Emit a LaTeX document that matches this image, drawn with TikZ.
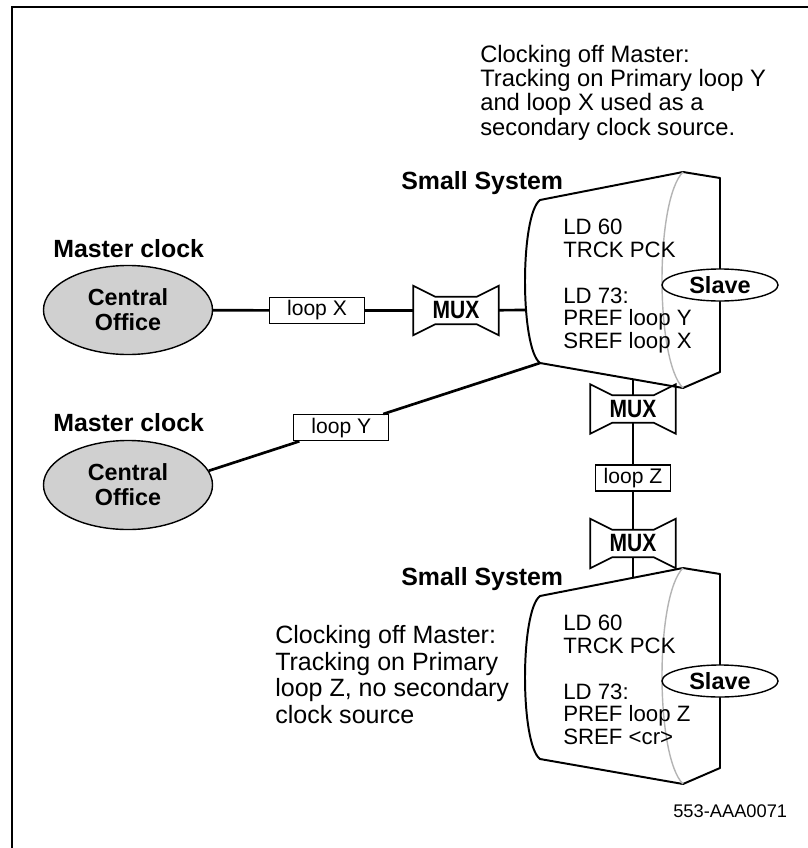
\documentclass[tikz,border=0pt]{standalone}
\usepackage{fontspec}
\setmainfont{Liberation Sans}
\usepackage{graphicx}
\usepackage{tikz}
\usetikzlibrary{shapes.geometric,calc,positioning}
\definecolor{cofill}{HTML}{D0D0D0}
\definecolor{arcgray}{HTML}{B4B4B4}
\tikzset{
  wire/.style={line width=1.9pt},
  sysline/.style={line width=1.4pt, line join=round},
  muxline/.style={line width=1.2pt},
  loopbox/.style={draw, fill=white, line width=0.9pt, minimum height=0.65cm, inner sep=0pt, font=\fontsize{15}{15}\selectfont},
  cooval/.style={ellipse, draw, fill=cofill, line width=1pt, minimum width=4.225cm, minimum height=2.225cm, inner sep=0pt, align=center, font=\fontsize{16.6}{17.7}\selectfont\bfseries},
  slaveoval/.style={ellipse, draw, fill=white, line width=1pt, minimum width=2.9cm, minimum height=0.8cm, inner sep=0pt, font=\fontsize{16.7}{16.7}\selectfont\bfseries},
  muxnode/.style={minimum width=2.125cm, minimum height=0.675cm, inner sep=0pt, font=\fontsize{17.8}{17.8}\selectfont\bfseries},
  heading/.style={anchor=base west, inner sep=0pt, font=\fontsize{17.7}{17.7}\selectfont\bfseries},
  ldtext/.style={anchor=north west, inner sep=0pt, align=left, font=\fontsize{15.8}{16.3}\selectfont},
}

\begin{document}
\begin{tikzpicture}[x=0.025cm, y=-0.025cm]
  \useasboundingbox (0,0) rectangle (808,848);
  % frame
  \draw[line width=1.8pt] (12,848) -- (12,7) -- (808,7);
  % captions
  \node[anchor=north west, inner sep=0pt, align=left, font=\fontsize{16.9}{17.2}\selectfont] (capa) at (480,45)
    {Clocking off Master:\\Tracking on Primary loop Y\\and loop X used as a\\secondary clock source.};
  \node[anchor=north west, inner sep=0pt, align=left, font=\fontsize{17.8}{18.9}\selectfont] (capb) at (275,625)
    {Clocking off Master:\\Tracking on Primary\\loop Z, no secondary\\clock source};
  % small systems
  \foreach \s/\dy/\pref/\sref in {a/0/Y/loop X, b/396/Z/{<cr>}} {
    \begin{scope}[shift={(0,\dy)}]
      \draw[sysline, fill=white] (540,200) -- (683,172) -- (720,178) -- (720,372) -- (683,388) -- (540,363)
        .. controls (520,348) and (520,215) .. (540,200) -- cycle;
      \draw[arcgray, line width=1pt] (683,172) .. controls (655,200) and (655,360) .. (683,388);
      \node[heading] (title\s) at (401,189) {Small System};
      \node[ldtext] (ld\s) at (563,218.5) {LD 60\\TRCK PCK\\[16.3pt]LD 73:\\PREF loop \pref\\SREF \sref};
      \node[slaveoval] (slave\s) at (720,285) {Slave};
      \coordinate (sys\s-w) at (526,310);
      \coordinate (sys\s-bl) at (540,363);
      \coordinate (sys\s-b) at (633,379.3);
      \coordinate (sys\s-t) at (633,181.8);
    \end{scope}
  }
  % central offices
  \node[heading] (mastera) at (53,257) {Master clock};
  \node[heading] (masterb) at (53,431) {Master clock};
  \node[cooval] (coa) at (128,310) {Central\\Office};
  \node[cooval] (cob) at (128,485) {Central\\Office};
  % multiplexers and loops
  \node[muxnode] (muxa) at (456,310.5) {\scalebox{0.84}[1]{MUX}};
  \node[muxnode] (muxb) at (633,409) {\scalebox{0.84}[1]{MUX}};
  \node[muxnode] (muxc) at (633,543.5) {\scalebox{0.84}[1]{MUX}};
  \foreach \m in {muxa,muxb,muxc}
    \draw[muxline] ([yshift=0.275cm]\m.north west) -- ([xshift=0.55cm]\m.north west) -- ([xshift=-0.55cm]\m.north east)
      -- ([yshift=0.275cm]\m.north east) -- ([yshift=-0.275cm]\m.south east) -- ([xshift=-0.55cm]\m.south east)
      -- ([xshift=0.55cm]\m.south west) -- ([yshift=-0.275cm]\m.south west) -- cycle;
  \node[loopbox, minimum width=2.375cm] (loopx) at (317,310.5) {loop X};
  \node[loopbox, minimum width=2.375cm] (loopy) at ($(cob.10)!0.4!(sysa-bl)$) {loop Y};
  \node[loopbox, minimum width=1.875cm] (loopz) at (633,478) {loop Z};
  % connections
  \draw[wire] (coa) -- (loopx) -- (muxa) -- (sysa-w);
  \draw[wire] (cob.10) -- (loopy) -- (sysa-bl);
  \draw[wire] (sysa-b) -- (muxb) -- (loopz) -- (muxc) -- (sysb-t);
  \node[anchor=base west, inner sep=0pt, font=\fontsize{13}{13}\selectfont] (figid) at (673,817) {553-AAA0071};
\end{tikzpicture}
\end{document}
